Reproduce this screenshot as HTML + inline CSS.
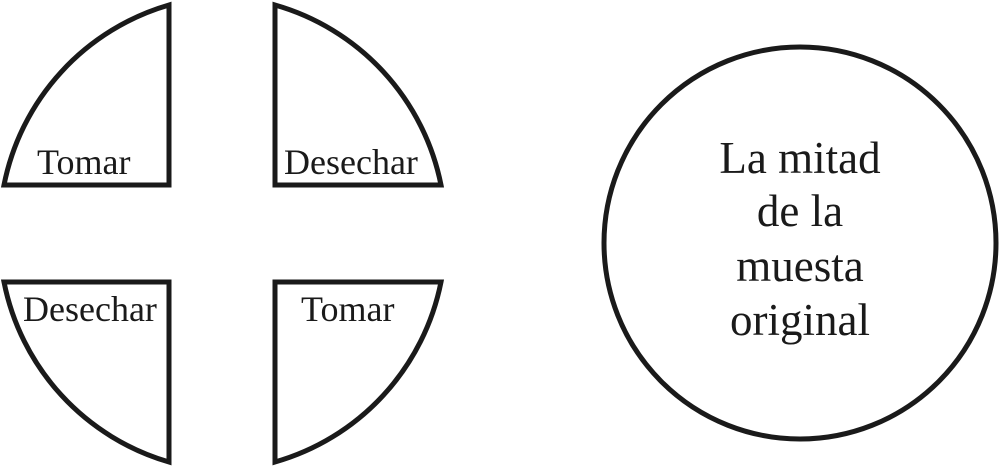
<!DOCTYPE html>
<html><head><meta charset="utf-8"><style>html,body{margin:0;padding:0;background:#fff}svg{display:block}</style></head>
<body>
<svg width="1000" height="467" viewBox="0 0 1000 467" xmlns="http://www.w3.org/2000/svg">
<g fill="none" stroke="#1a1a1a" stroke-width="5" stroke-linejoin="miter">
<path d="M169,5 L169,185 L4,185 A235,235 0 0 1 169,5 Z"/>
<path d="M275,5 L275,185 L441,185 A235,235 0 0 0 275,5 Z"/>
<path d="M169,462 L169,282 L4,282 A235,235 0 0 0 169,462 Z"/>
<path d="M275,462 L275,282 L441,282 A235,235 0 0 1 275,462 Z"/>
<circle cx="800" cy="243" r="196"/>
</g>
<g font-family="'Liberation Serif', serif" fill="#1a1a1a">
<text x="37" y="174" font-size="36">Tomar</text>
<text x="284" y="174" font-size="36">Desechar</text>
<text x="23" y="321" font-size="36">Desechar</text>
<text x="301" y="321" font-size="36">Tomar</text>
<g font-size="45" text-anchor="middle">
<text x="800" y="173">La mitad</text>
<text x="800" y="226">de la</text>
<text x="800" y="281">muesta</text>
<text x="800" y="335">original</text>
</g>
</g>
</svg>
</body></html>
